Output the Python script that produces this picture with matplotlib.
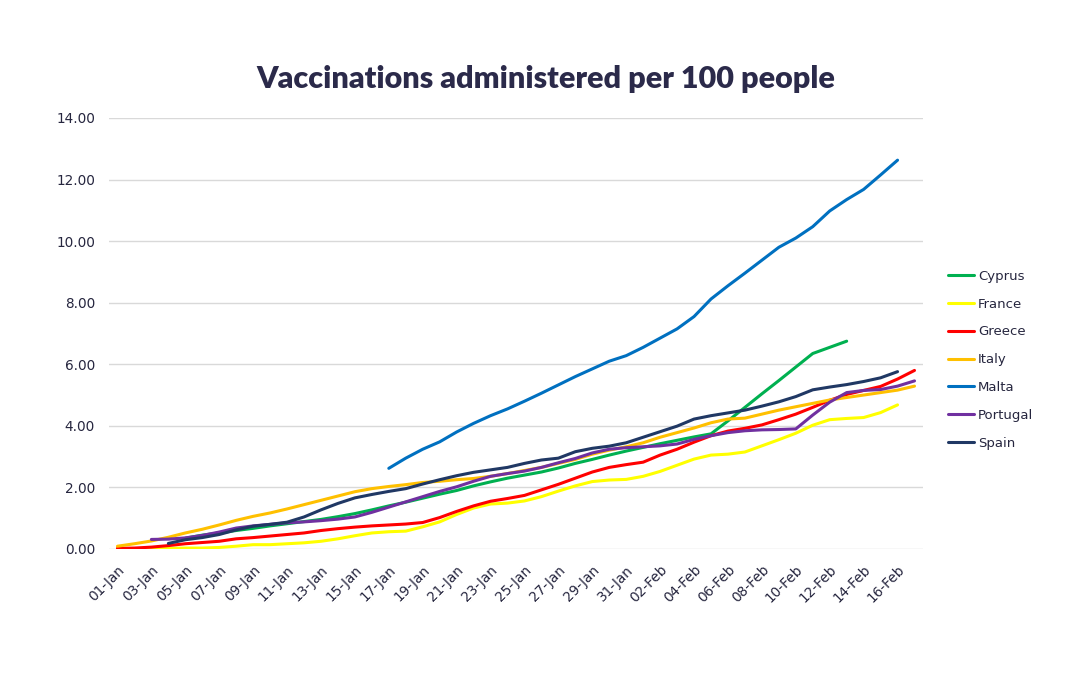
import numpy as np
import pandas as pd
import matplotlib
matplotlib.use("Agg")
import matplotlib.pyplot as plt

# dates 01-Jan .. 17-Feb
DATES = pd.date_range("2021-01-01", "2021-02-17", freq="D")
N = len(DATES)

# values per 100 people, each list starts at the given date
cyprus_start = "2021-01-05"
cyprus = [0.35, 0.45, 0.52, 0.60, 0.67, 0.75, 0.82, 0.89, 0.96, 1.05,
          1.15, 1.27, 1.40, 1.52, 1.65, 1.78, 1.90, 2.05, 2.18, 2.30,
          2.40, 2.50, 2.63, 2.78, 2.91, 3.05, 3.18, 3.30, 3.42, 3.53,
          3.64, 3.74, 4.16, 4.60, 5.04, 5.47, 5.91, 6.35, 6.55, 6.75]

france_start = "2021-01-01"
france = [0.01, 0.01, 0.01, 0.02, 0.03, 0.03, 0.05, 0.09, 0.14, 0.14,
          0.17, 0.20, 0.25, 0.33, 0.43, 0.52, 0.56, 0.58, 0.72, 0.88,
          1.12, 1.33, 1.46, 1.49, 1.56, 1.70, 1.88, 2.05, 2.19, 2.24,
          2.26, 2.36, 2.52, 2.72, 2.92, 3.05, 3.08, 3.15, 3.35, 3.55,
          3.76, 4.02, 4.20, 4.24, 4.27, 4.43, 4.68]

greece_start = "2021-01-01"
greece = [0.02, 0.03, 0.06, 0.11, 0.17, 0.21, 0.25, 0.33, 0.37, 0.42,
          0.47, 0.52, 0.60, 0.66, 0.71, 0.75, 0.78, 0.81, 0.86, 1.02,
          1.22, 1.40, 1.55, 1.64, 1.74, 1.92, 2.10, 2.30, 2.50, 2.65,
          2.74, 2.82, 3.05, 3.24, 3.47, 3.68, 3.83, 3.92, 4.03, 4.20,
          4.38, 4.60, 4.83, 5.02, 5.15, 5.28, 5.52, 5.80]

italy_start = "2021-01-01"
italy = [0.09, 0.17, 0.26, 0.38, 0.52, 0.64, 0.78, 0.93, 1.06, 1.17,
         1.30, 1.44, 1.58, 1.72, 1.86, 1.96, 2.03, 2.09, 2.16, 2.20,
         2.25, 2.29, 2.36, 2.45, 2.55, 2.65, 2.78, 2.91, 3.08, 3.21,
         3.32, 3.45, 3.63, 3.78, 3.93, 4.10, 4.22, 4.25, 4.38, 4.51,
         4.62, 4.73, 4.84, 4.92, 5.00, 5.08, 5.16, 5.29]

malta_start = "2021-01-17"
malta = [2.62, 2.95, 3.24, 3.48, 3.80, 4.08, 4.33, 4.55, 4.80, 5.06,
         5.33, 5.60, 5.85, 6.10, 6.28, 6.55, 6.85, 7.15, 7.55, 8.12,
         8.55, 8.96, 9.38, 9.80, 10.10, 10.47, 10.98, 11.35, 11.68, 12.15,
         12.63]

portugal_start = "2021-01-03"
portugal = [0.31, 0.32, 0.36, 0.44, 0.55, 0.68, 0.75, 0.80, 0.85, 0.88,
            0.92, 0.97, 1.04, 1.19, 1.36, 1.53, 1.70, 1.87, 2.02, 2.20,
            2.36, 2.45, 2.53, 2.65, 2.80, 2.94, 3.12, 3.24, 3.29, 3.32,
            3.35, 3.41, 3.56, 3.68, 3.78, 3.84, 3.87, 3.88, 3.90, 4.35,
            4.77, 5.08, 5.15, 5.18, 5.29, 5.46]

spain_start = "2021-01-04"
spain = [0.18, 0.30, 0.37, 0.47, 0.62, 0.74, 0.80, 0.87, 1.04, 1.27,
         1.48, 1.66, 1.77, 1.87, 1.96, 2.11, 2.25, 2.38, 2.49, 2.57,
         2.65, 2.78, 2.89, 2.95, 3.16, 3.27, 3.34, 3.45, 3.63, 3.81,
         3.99, 4.22, 4.33, 4.42, 4.51, 4.64, 4.78, 4.95, 5.17, 5.26,
         5.34, 5.44, 5.56, 5.76]

SERIES = [
    ("Cyprus", cyprus_start, cyprus, "#00B050"),
    ("France", france_start, france, "#FFFF00"),
    ("Greece", greece_start, greece, "#FF0000"),
    ("Italy", italy_start, italy, "#FFC000"),
    ("Malta", malta_start, malta, "#0070C0"),
    ("Portugal", portugal_start, portugal, "#7030A0"),
    ("Spain", spain_start, spain, "#203864"),
]

TEXT = "#26263F"
GRID = "#D9D9D9"


def to_frame():
    df = pd.DataFrame(index=DATES)
    for name, start, vals, _ in SERIES:
        idx = pd.date_range(start, periods=len(vals), freq="D")
        df[name] = pd.Series(vals, index=idx)
    return df


def main():
    df = to_frame()
    pos = np.arange(N)

    fig = plt.figure(figsize=(10.91, 6.75), dpi=100)
    ax = fig.add_axes([0.0999, 0.1867, 0.7461, 0.6385])

    for i, (name, _, _, color) in enumerate(SERIES):
        ax.plot(pos, df[name].values, color=color, lw=2.2, label=name,
                solid_capstyle="round", zorder=3 + i)

    ax.set_xlim(-0.5, N - 0.5)
    ax.set_ylim(0, 14)
    ax.set_yticks(np.arange(0, 15, 2))
    ax.set_yticklabels([f"{v:.2f}" for v in np.arange(0, 15, 2)])
    ticks = pos[::2]
    ax.set_xticks(ticks)
    ax.set_xticklabels([DATES[t].strftime("%d-%b") for t in ticks],
                       rotation=45, ha="right", rotation_mode="anchor")

    ax.grid(axis="y", color=GRID, lw=1)
    ax.set_axisbelow(True)
    for s in ax.spines.values():
        s.set_visible(False)
    ax.tick_params(length=0, colors=TEXT, labelsize=9.8)
    ax.tick_params(axis="y", pad=10)
    ax.tick_params(axis="x", pad=10)

    fig.legend(loc="center left", bbox_to_anchor=(0.869, 0.467),
               frameon=False, fontsize=9.5, handlelength=2.0,
               handletextpad=0.25, labelspacing=1.12, borderaxespad=0,
               borderpad=0, labelcolor=TEXT)

    fig.text(0.5, 0.883, "Vaccinations administered per 100 people",
             ha="center", va="center", fontsize=22, fontweight="heavy",
             family="Lato", color="#2B2A4A")

    fig.savefig("out.png", dpi=100, facecolor="white")
    plt.close(fig)


if __name__ == "__main__":
    main()
